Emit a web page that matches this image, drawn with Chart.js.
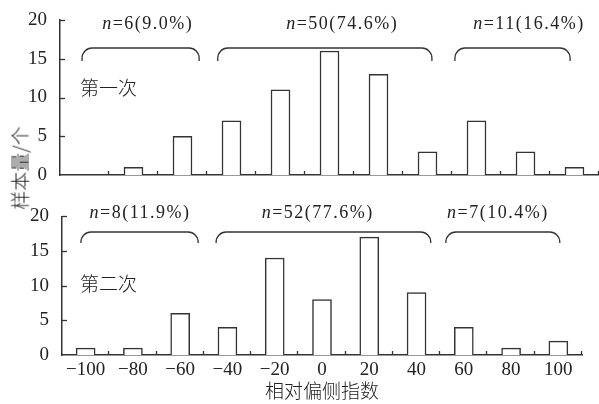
<!DOCTYPE html>
<html>
<head>
<meta charset="utf-8">
<script src="https://cdn.jsdelivr.net/npm/chart.js@4/dist/chart.umd.min.js"></script>
<style>
html,body{margin:0;padding:0;background:#fff;}
#wrap{position:relative;width:599px;height:404px;overflow:hidden;background:#fff;}
canvas{position:absolute;left:0;}
#c1{top:0;}
#c2{top:200px;}
#ytitle{position:absolute;left:19px;top:168px;transform:translate(-50%,-50%) rotate(-90deg);
  white-space:nowrap;font-family:"Noto Sans CJK SC";font-weight:300;font-size:19px;color:#222;line-height:1;}
</style>
</head>
<body>
<div id="wrap">
  <canvas id="c1" width="599" height="200"></canvas>
  <canvas id="c2" width="599" height="204"></canvas>
  <div id="ytitle">样本量/个</div>
</div>
<script>
// ---- data ----
const categories = ['−100','−80','−60','−40','−20','0','20','40','60','80','100'];
const firstCounts  = [0, 1, 5, 7, 11, 16, 13, 3, 7, 3, 1];
const secondCounts = [1, 1, 6, 4, 14, 8, 17, 9, 4, 1, 2];
const firstGroupLabels  = ['n=6(9.0%)', 'n=50(74.6%)', 'n=11(16.4%)'];
const secondGroupLabels = ['n=8(11.9%)', 'n=52(77.6%)', 'n=7(10.4%)'];
const panelLabels = ['第一次', '第二次'];
const yTicksMax = 20;
const xTitle = '相对偏侧指数';

const INK = '#333';
const TXT = '#222';
const SERIF = '"Liberation Serif", "Times New Roman", serif';
const CJK = '"Noto Sans CJK SC", sans-serif';

function line(ctx, x1, y1, x2, y2){ ctx.beginPath(); ctx.moveTo(x1,y1); ctx.lineTo(x2,y2); ctx.stroke(); }

const decor = {
  id: 'decor',
  afterDraw(chart, args, o) {
    const {ctx, chartArea, scales:{x, y}} = chart;
    ctx.save();
    ctx.strokeStyle = INK;
    ctx.lineWidth = 1.3;
    // inward y ticks
    y.ticks.forEach(t => {
      if (t.value === 0) return;
      const py = Math.round(y.getPixelForValue(t.value)) + 0.5;
      line(ctx, chartArea.left, py, chartArea.left + 5, py);
    });
    // inward x ticks at category boundaries
    for (let i = 0; i < categories.length; i++) {
      const px = Math.round(x.getPixelForValue(i + 0.5)) - 0.5;
      line(ctx, px, chartArea.bottom, px, chartArea.bottom - 4);
    }
    // braces + group labels
    const r = 10;
    o.groups.forEach((g, k) => {
      const x1 = x.getPixelForValue(g.from), x2 = x.getPixelForValue(g.to);
      const yt = o.braceTop, yb = o.braceBottom;
      ctx.beginPath();
      ctx.moveTo(x1, yb);
      ctx.arcTo(x1, yt, x1 + r, yt, r);
      ctx.lineTo(x2 - r, yt);
      ctx.arcTo(x2, yt, x2, yb, r);
      ctx.lineTo(x2, yb);
      ctx.stroke();

      const label = o.labels[k];
      const first = label.charAt(0), rest = label.slice(1);
      ctx.letterSpacing = '1.5px';
      ctx.font = 'italic 18px ' + SERIF;
      const w1 = ctx.measureText(first).width;
      ctx.font = '18px ' + SERIF;
      const w2 = ctx.measureText(rest).width;
      const cx = x.getPixelForValue(g.text);
      let sx = cx - (w1 + w2) / 2;
      ctx.fillStyle = TXT;
      ctx.textBaseline = 'middle';
      ctx.textAlign = 'left';
      ctx.font = 'italic 18px ' + SERIF;
      ctx.fillText(first, sx, o.textY);
      ctx.font = '18px ' + SERIF;
      ctx.fillText(rest, sx + w1, o.textY);
    });
    ctx.letterSpacing = '0px';
    // panel label
    ctx.font = '300 19px ' + CJK;
    ctx.fillStyle = TXT;
    ctx.textAlign = 'left';
    ctx.textBaseline = 'middle';
    ctx.fillText(o.panel, o.panelX, o.panelY);
    ctx.restore();
  }
};

function makeChart(id, values, cfg) {
  return new Chart(document.getElementById(id), {
    type: 'bar',
    data: {
      labels: categories,
      datasets: [{
        data: values,
        backgroundColor: '#fff',
        borderColor: INK,
        borderWidth: 1.5,
        borderSkipped: 'start',
        barThickness: 19
      }]
    },
    options: {
      responsive: false,
      animation: false,
      devicePixelRatio: 1,
      layout: { padding: cfg.padding },
      plugins: {
        legend: { display: false },
        tooltip: { enabled: false },
        decor: cfg.decor
      },
      scales: {
        x: {
          type: 'category',
          offset: true,
          grid: { display: false },
          border: { display: true, color: INK, width: 1.5 },
          ticks: {
            display: cfg.showX,
            color: TXT,
            font: { family: SERIF, size: 19 },
            padding: -4,
            maxRotation: 0,
            autoSkip: false
          },
          title: {
            display: cfg.showX,
            text: xTitle,
            color: TXT,
            font: { family: CJK, size: 19, weight: 300 },
            padding: { top: 0, bottom: 2 }
          },
          afterFit: s => { s.height = cfg.xHeight; }
        },
        y: {
          min: 0,
          max: yTicksMax,
          grid: { display: false },
          border: { display: true, color: INK, width: 1.5 },
          ticks: {
            stepSize: 5,
            color: TXT,
            font: { family: SERIF, size: 19 },
            padding: 5
          },
          afterFit: s => { s.width = cfg.yWidth; }
        }
      }
    },
    plugins: [decor]
  });
}

makeChart('c1', firstCounts, {
  padding: { left: 0, right: 0, top: 20, bottom: 25 },
  showX: false,
  xHeight: 0,
  yWidth: 60,
  decor: {
    groups: [
      { from: -0.05, to: 2.34, text: 1.29 },
      { from: 2.72, to: 7.09, text: 5.26 },
      { from: 7.56, to: 9.91, text: 9.07 }
    ],
    labels: firstGroupLabels,
    braceTop: 48, braceBottom: 61, textY: 24,
    panel: panelLabels[0], panelX: 80, panelY: 88
  }
});

makeChart('c2', secondCounts, {
  padding: { left: 0, right: 17, top: 16, bottom: 0 },
  showX: true,
  xHeight: 49,
  yWidth: 62,
  decor: {
    groups: [
      { from: -0.1, to: 2.38, text: 1.15 },
      { from: 2.76, to: 7.30, text: 4.91 },
      { from: 7.62, to: 10.03, text: 8.72 }
    ],
    labels: secondGroupLabels,
    braceTop: 32, braceBottom: 43, textY: 13,
    panel: panelLabels[1], panelX: 80, panelY: 84
  }
});
</script>
</body>
</html>
